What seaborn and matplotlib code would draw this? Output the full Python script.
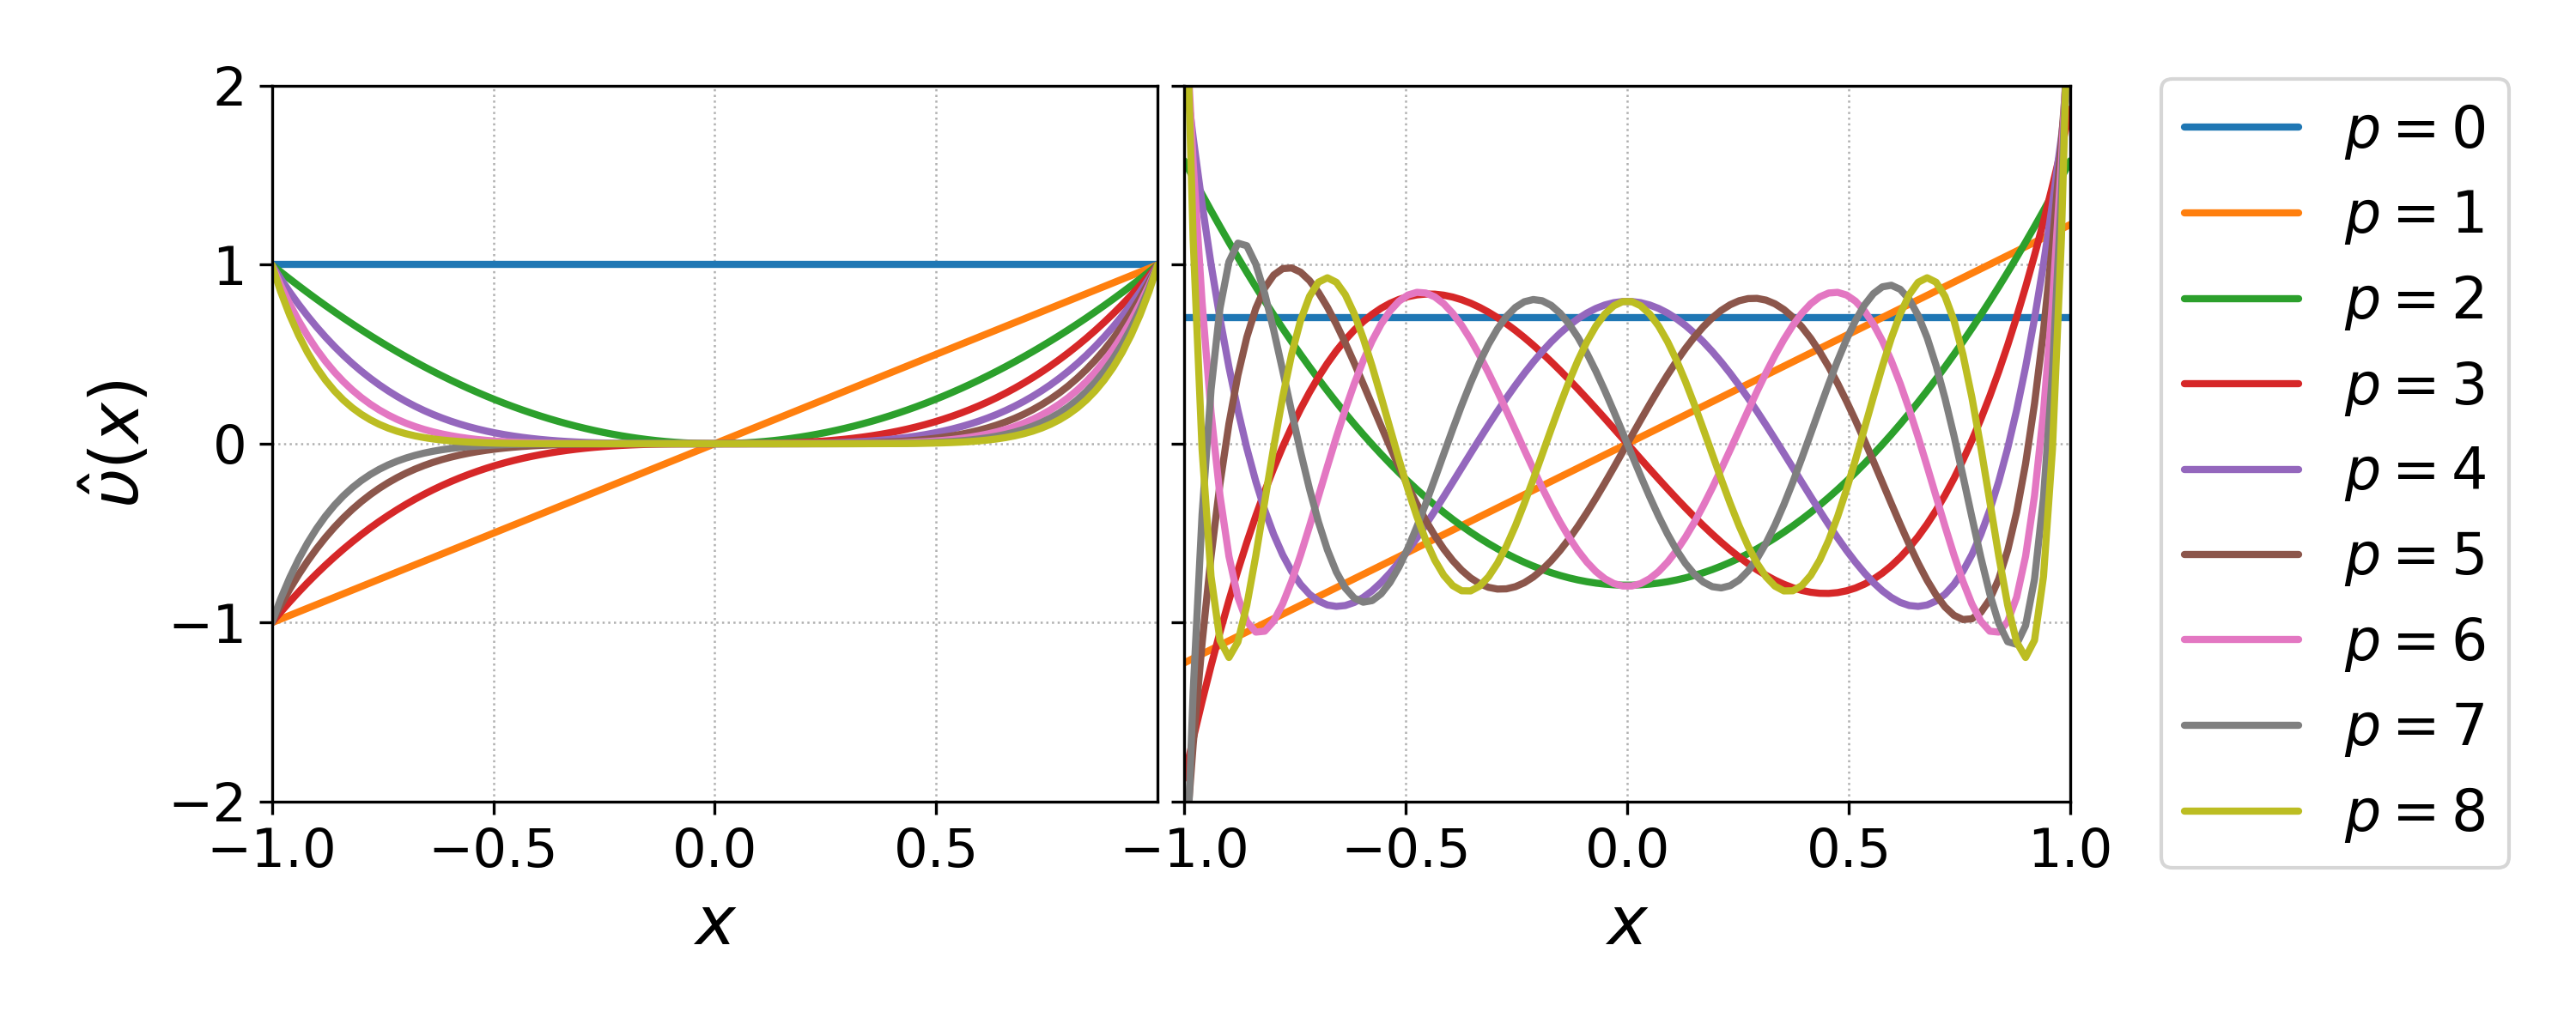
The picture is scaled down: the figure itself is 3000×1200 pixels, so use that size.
import numpy as np
import pandas as pd
import seaborn as sns
import matplotlib
matplotlib.use("Agg")
import matplotlib.pyplot as plt
from numpy.polynomial import legendre


sns.set_style("ticks")
plt.rcParams["font.family"] = ["DejaVu Sans"]
plt.rcParams["mathtext.fontset"] = "dejavusans"
for key in ["text.color", "axes.labelcolor", "xtick.color", "ytick.color", "axes.edgecolor"]:
    plt.rcParams[key] = "black"

# polynomial degrees shown in the legend
degrees = [0, 1, 2, 3, 4, 5, 6, 7, 8]
# sample points on the reference interval
x_grid = np.linspace(-1.0, 1.0, 100)
x_ticks_left = [-1.0, -0.5, 0.0, 0.5]
x_ticks_right = [-1.0, -0.5, 0.0, 0.5, 1.0]
y_ticks = [-2, -1, 0, 1, 2]


def monomial(p, x):
    return x ** p


def legendre_normed(p, x):
    coef = np.zeros(p + 1)
    coef[p] = 1.0
    return np.sqrt((2 * p + 1) / 2.0) * legendre.legval(x, coef)


def basis_frame(func):
    rows = []
    for p in degrees:
        rows.append(pd.DataFrame({"x": x_grid, "v": func(p, x_grid), "label": f"$p = {p}$"}))
    return pd.concat(rows, ignore_index=True)


mono_df = basis_frame(monomial)
leg_df = basis_frame(legendre_normed)

palette = sns.color_palette("tab10", n_colors=len(degrees))
labels = [f"$p = {p}$" for p in degrees]

fig = plt.figure(figsize=(10, 4), dpi=300)
ax1 = fig.add_axes([0.1055, 0.2217, 0.344, 0.695])
ax2 = fig.add_axes([0.4597, 0.2217, 0.344, 0.695], sharey=ax1)

sns.lineplot(data=mono_df, x="x", y="v", hue="label", hue_order=labels,
             palette=palette, linewidth=2, ax=ax1, legend=False, sort=False)
sns.lineplot(data=leg_df, x="x", y="v", hue="label", hue_order=labels,
             palette=palette, linewidth=2, ax=ax2, legend=True, sort=False)

for ax in (ax1, ax2):
    ax.set_xlim(-1, 1)
    ax.set_ylim(-2, 2)
    ax.set_yticks(y_ticks)
    ax.grid(True, linestyle=":", linewidth=0.6, color="#b0b0b0")
    ax.set_xlabel("$x$", fontsize=19)
    ax.tick_params(labelsize=15, width=0.8, length=3.5)
    for s in ax.spines.values():
        s.set_linewidth(0.8)

ax1.set_xticks(x_ticks_left)
ax2.set_xticks(x_ticks_right)
ax1.set_ylabel(r"$\hat{\upsilon}(x)$", fontsize=19)
ax2.set_ylabel("")
ax2.tick_params(labelleft=False)

handles, _ = ax2.get_legend_handles_labels()
ax2.get_legend().remove()
fig.legend(handles, labels, loc="upper left", bbox_to_anchor=(0.839, 0.9233),
           borderaxespad=0, fontsize=16, labelspacing=0.47)

fig.savefig("out.png", dpi=300)
